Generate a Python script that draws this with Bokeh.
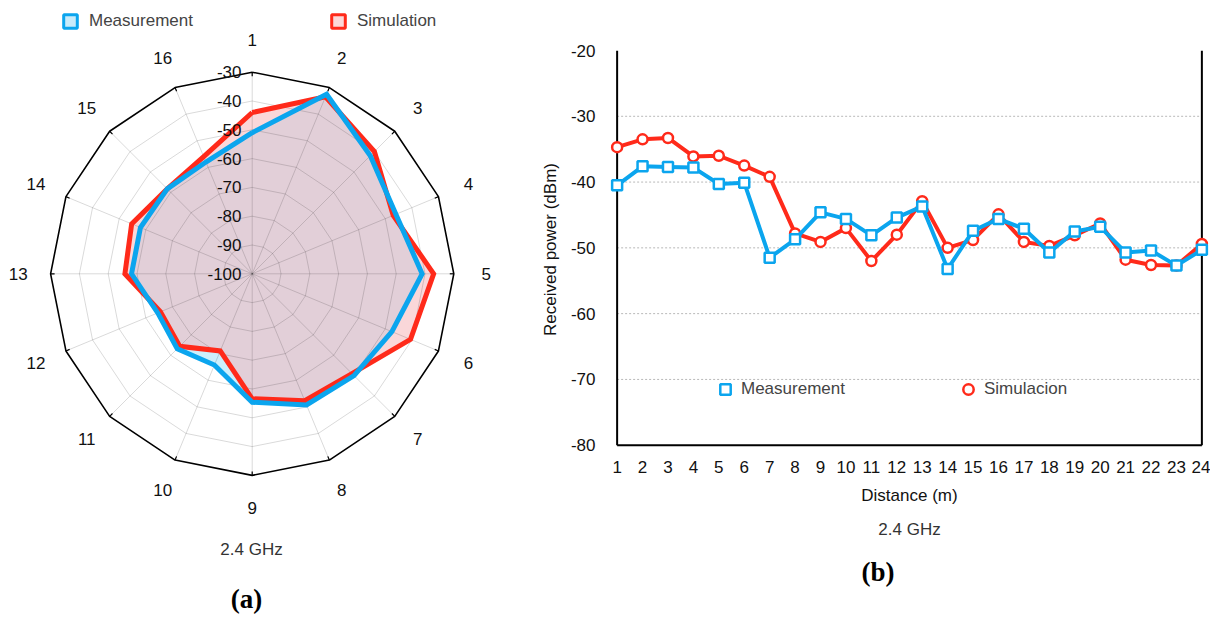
import math
from bokeh.plotting import figure
from bokeh.models import (Range1d, FixedTicker, Legend, LegendItem, ColumnDataSource, Title)
from bokeh.layouts import row
from bokeh.core.properties import value
from bokeh.embed import file_html
from bokeh.resources import INLINE

# ---------------- data ----------------
directions = [str(i) for i in range(1, 17)]
radar_meas = [-51.0, -32.5, -42.0, -46.0, -41.0, -47.5, -50.0, -50.7,
              -55.4, -65.7, -63.2, -64.5, -58.1, -58.0, -58.3, -58.0]
radar_sim = [-44.0, -33.5, -40.0, -47.0, -37.0, -40.5, -51.0, -52.3,
             -56.6, -71.0, -64.4, -65.5, -55.8, -54.7, -58.3, -56.0]
radar_ticks = [-30, -40, -50, -60, -70, -80, -90, -100]

distance = list(range(1, 25))
meas = [-40.5, -37.6, -37.7, -37.8, -40.3, -40.1, -51.5, -48.7, -44.6, -45.6, -48.1, -45.4,
        -43.7, -53.2, -47.4, -45.6, -47.1, -50.7, -47.5, -46.8, -50.7, -50.4, -52.7, -50.3]
sim = [-34.7, -33.5, -33.3, -36.1, -36.0, -37.5, -39.2, -47.8, -49.1, -47.0, -52.0, -48.0,
       -42.9, -50.0, -48.8, -44.9, -49.1, -49.7, -48.1, -46.3, -51.8, -52.6, -52.7, -49.4]
y_ticks = [-80, -70, -60, -50, -40, -30, -20]

FONT = "Liberation Sans"
BLUE = "#0ba5ee"
RED = "#ff2a1a"
H = 614

# ---------------- radar (a) ----------------
CX, CY = 251.7, -273.3
RMAX = 201.6
VMIN, VMAX = -100.0, -30.0


def rad(v):
    return (v - VMIN) / (VMAX - VMIN) * RMAX


def pt(v, k, r=None):
    th = math.radians(22.5 * k)
    rr = rad(v) if r is None else r
    return CX + rr * math.sin(th), CY + rr * math.cos(th)


p1 = figure(width=528, height=H, x_range=Range1d(0, 528), y_range=Range1d(-H, 0),
            output_backend="svg", toolbar_location=None, min_border=0,
            x_axis_location=None, y_axis_location=None)
p1.grid.visible = False
p1.outline_line_color = None

n = len(directions)
mx = [pt(v, k)[0] for k, v in enumerate(radar_meas)]
my = [pt(v, k)[1] for k, v in enumerate(radar_meas)]
sx = [pt(v, k)[0] for k, v in enumerate(radar_sim)]
sy = [pt(v, k)[1] for k, v in enumerate(radar_sim)]

p1.patch(mx, my, fill_color="#cdeffc", line_color=None)
p1.patch(sx, sy, fill_color=(245, 178, 182), fill_alpha=0.52, line_color=None)

# grid rings and spokes
ring_xs, ring_ys = [], []
for t in radar_ticks[1:-1]:
    ring_xs.append([pt(t, k)[0] for k in range(n + 1)])
    ring_ys.append([pt(t, k)[1] for k in range(n + 1)])
p1.multi_line(ring_xs, ring_ys, line_color="black", line_alpha=0.15, line_width=1)
ox = [pt(VMAX, k)[0] for k in range(n)]
oy = [pt(VMAX, k)[1] for k in range(n)]
p1.segment(x0=[CX] * n, y0=[CY] * n, x1=ox, y1=oy, line_color="black", line_alpha=0.15, line_width=1)
# outer ring with small inward ticks
p1.line(ox + [ox[0]], oy + [oy[0]], line_color="black", line_width=1.6)
ix = [pt(0, k, RMAX - 4)[0] for k in range(n)]
iy = [pt(0, k, RMAX - 4)[1] for k in range(n)]
p1.segment(x0=ox, y0=oy, x1=ix, y1=iy, line_color="black", line_width=1.2)

# data outlines
p1.line(sx + [sx[0]], sy + [sy[0]], line_color=RED, line_width=5, line_join="miter")
p1.line(mx + [mx[0]], my + [my[0]], line_color=BLUE, line_width=5, line_join="miter")

# ring tick labels
p1.text(x=[241] * len(radar_ticks), y=[CY + rad(t) for t in radar_ticks],
        text=[str(t) for t in radar_ticks], text_align="right", text_baseline="middle",
        text_font=value(FONT), text_font_size="17px", text_color="#111111")

# direction labels
lx = [pt(0, k, 234)[0] for k in range(n)]
ly = [pt(0, k, 234)[1] for k in range(n)]
p1.text(x=lx, y=ly, text=directions, text_align="center", text_baseline="middle",
        text_font=value(FONT), text_font_size="17px", text_color="#111111")

p1.text(x=[251], y=[-549], text=["2.4 GHz"], text_align="center", text_baseline="middle",
        text_font=value(FONT), text_font_size="17px", text_color="#333333")
p1.text(x=[246], y=[-598], text=["(a)"], text_align="center", text_baseline="middle",
        text_font=value("Liberation Serif"), text_font_size="27px", text_font_style="bold",
        text_color="black")

# legend glyph renderers (placed off-canvas so only the legend shows them)
lm = p1.scatter(x=[-1000], y=[-1000], marker="square", size=13, fill_color="#c8ebfa",
                line_color=BLUE, line_width=3)
ls = p1.scatter(x=[-1000], y=[-1000], marker="square", size=13, fill_color="#fcd8d8",
                line_color=RED, line_width=3)
leg1 = Legend(items=[LegendItem(label="Measurement", renderers=[lm]),
                     LegendItem(label="Simulation", renderers=[ls])],
              orientation="horizontal", location=(53, H - 38), spacing=128,
              label_text_font=FONT, label_text_font_size="17px", label_standoff=2,
              glyph_width=34, glyph_height=34, padding=0, margin=0,
              border_line_color=None, background_fill_alpha=0)
p1.add_layout(leg1)

# ---------------- line chart (b) ----------------
p2 = figure(width=682, height=H, x_range=Range1d(0.7, 24.3), y_range=Range1d(-80.5, -20),
            output_backend="svg", toolbar_location=None,
            min_border_left=81, min_border_right=1, min_border_top=50, min_border_bottom=H - 448)
p2.outline_line_color = None
p2.grid.visible = False

for ax in (p2.xaxis[0], p2.yaxis[0]):
    ax.major_tick_line_color = None
    ax.minor_tick_line_color = None
    ax.axis_line_color = None
    ax.major_label_text_font = FONT
    ax.major_label_text_font_size = "17px"
    ax.major_label_text_color = "#111111"
    ax.axis_label_text_font = FONT
    ax.axis_label_text_font_size = "17px"
    ax.axis_label_text_font_style = "normal"
    ax.axis_label_text_color = "#111111"

p2.xaxis.ticker = FixedTicker(ticks=distance)
p2.xaxis.major_label_standoff = 6
p2.xaxis.axis_label = "Distance (m)"
p2.xaxis.axis_label_standoff = 10
p2.yaxis.ticker = FixedTicker(ticks=y_ticks)
p2.yaxis.major_label_overrides = {t: str(t) for t in y_ticks}
p2.yaxis.major_label_standoff = 8
p2.yaxis.axis_label = "Received power (dBm)"
p2.yaxis.axis_label_standoff = 8

x0, x1 = distance[0], distance[-1]
y0, y1 = y_ticks[0], y_ticks[-1]
# dotted horizontal grid lines inside the box
gy = y_ticks[1:-1]
p2.segment(x0=[x0] * len(gy), y0=gy, x1=[x1] * len(gy), y1=gy,
           line_color="#b8b8b8", line_dash="2 2", line_width=1)
# box: left, right, bottom
p2.segment(x0=[x0, x1, x0], y0=[y0, y0, y0], x1=[x0, x1, x1], y1=[y1, y1, y0],
           line_color="black", line_width=2)

src = ColumnDataSource(dict(d=distance, meas=meas, sim=sim))
p2.line("d", "sim", source=src, line_color=RED, line_width=4)
rs = p2.scatter("d", "sim", source=src, marker="circle", size=10, fill_color="white",
                line_color=RED, line_width=2.5)
p2.line("d", "meas", source=src, line_color=BLUE, line_width=4)
rm = p2.scatter("d", "meas", source=src, marker="square", size=10, fill_color="white",
                line_color=BLUE, line_width=2.5)

leg2 = Legend(items=[LegendItem(label="Measurement", renderers=[rm]),
                     LegendItem(label="Simulacion", renderers=[rs])],
              orientation="horizontal", location=(103, 46), spacing=110,
              label_text_font=FONT, label_text_font_size="17px", label_standoff=3,
              glyph_width=26, glyph_height=26, padding=0, margin=0,
              border_line_color=None, background_fill_alpha=0)
p2.add_layout(leg2)

p2.add_layout(Title(text="2.4 GHz", align="center", text_font=FONT, text_font_size="17px",
                    text_font_style="normal", text_color="#333333", standoff=21), "below")
p2.add_layout(Title(text="(b)", align="left", offset=252, text_font="Liberation Serif",
                    text_font_size="27px", text_font_style="bold", text_color="black",
                    standoff=10), "below")

for p in (p1, p2):
    if "frame_align" in p.properties():
        p.frame_align = False

layout = row(p1, p2)
open("out.html", "w").write(file_html(layout, INLINE))
